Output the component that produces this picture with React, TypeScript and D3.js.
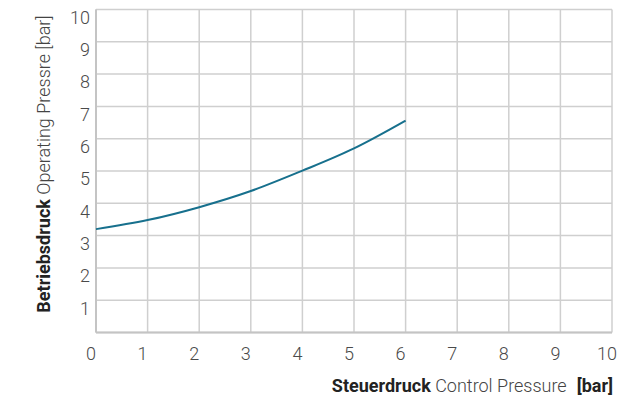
import React from 'react';
import * as d3 from 'd3';

const controlPressure = [0, 1, 2, 3, 4, 5, 6];
const operatingPressure = [3.2, 3.48, 3.88, 4.38, 5.01, 5.7, 6.56];
const ticks = [0, 1, 2, 3, 4, 5, 6, 7, 8, 9, 10];
const yTicks = [1, 2, 3, 4, 5, 6, 7, 8, 9, 10];

const width = 618;
const height = 399;
const margin = { top: 9.5, right: 6, bottom: 66.5, left: 96 };

const App: React.FC = () => {
  const x = d3.scaleLinear().domain([0, 10]).range([margin.left, width - margin.right]);
  const y = d3.scaleLinear().domain([0, 10]).range([height - margin.bottom, margin.top]);

  const pts = controlPressure.map((c, i) => [c, operatingPressure[i]] as [number, number]);
  const line = d3.line<[number, number]>()
    .x(d => x(d[0]))
    .y(d => y(d[1]))
    .curve(d3.curveMonotoneX);

  const font = 'Roboto, sans-serif';
  const gridColor = '#cfcfcf';

  return (
    <svg width={width} height={height} style={{ position: 'absolute', left: 0, top: 0 }} fontFamily={font}>
      <rect width={width} height={height} fill="#fff" />
      {/* grid */}
      {ticks.map(t => (
        <line key={'v' + t} x1={x(t)} x2={x(t)} y1={y(0)} y2={y(10)} stroke={gridColor} strokeWidth={1.5} />
      ))}
      {ticks.map(t => (
        <line key={'h' + t} x1={x(0)} x2={x(10)} y1={y(t)} y2={y(t)} stroke={gridColor} strokeWidth={1.5} />
      ))}
      {/* axes */}
      <line x1={x(0)} x2={x(0)} y1={y(0)} y2={y(10)} stroke="#c4c4c4" strokeWidth={2} />
      <line x1={x(0)} x2={x(10)} y1={y(0)} y2={y(0)} stroke="#c4c4c4" strokeWidth={2} />

      {/* y tick labels */}
      {yTicks.map(t => (
        <text key={'yl' + t} x={x(0) - 6} y={y(t) + 8} dy="0.35em" textAnchor="end"
          fontSize={18} fontWeight={300} fill="#4a4a4a">{t}</text>
      ))}
      {/* x tick labels */}
      {ticks.map(t => (
        <text key={'xl' + t} x={x(t) - 5} y={y(0) + 21} dy="0.35em" textAnchor="middle"
          fontSize={18} fontWeight={300} fill="#4a4a4a">{t}</text>
      ))}

      <path d={line(pts) || ''} fill="none" stroke="#17708d" strokeWidth={2} />

      {/* axis titles */}
      <text transform={`translate(50, 164) rotate(-90)`} textAnchor="middle" fontSize={18} fill="#222">
        <tspan fontWeight={700}>Betriebsdruck</tspan>
        <tspan fontWeight={300} fill="#444"> Operating Pressre [bar]</tspan>
      </text>
      <text x={613} y={392} textAnchor="end" fontSize={18} fill="#222">
        <tspan fontWeight={700}>Steuerdruck</tspan>
        <tspan fontWeight={300} fill="#444"> Control Pressure</tspan>
        <tspan fontWeight={700} dx={10}>[bar]</tspan>
      </text>
    </svg>
  );
};

export default App;
